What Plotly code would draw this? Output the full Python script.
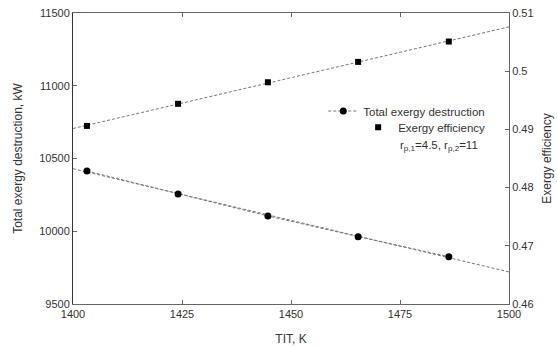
import numpy as np
import plotly.graph_objects as go

tit = [1403.2, 1424.1, 1444.7, 1465.4, 1486.2]
destruction = [10414, 10256, 10105, 9963, 9825]
efficiency = [0.4906, 0.4944, 0.4981, 0.5016, 0.5051]
x_range = [1400, 1500]
x_ticks = [1400, 1425, 1450, 1475, 1500]
y1_ticks = [9500, 10000, 10500, 11000, 11500]
y2_ticks = [0.46, 0.47, 0.48, 0.49, 0.5, 0.51]
y2_labels = ["0.46", "0.47", "0.48", "0.49", "0.5", "0.51"]

fit_x = np.array(x_range, dtype=float)
d_fit = np.polyval(np.polyfit(tit, destruction, 1), fit_x)
e_fit = np.polyval(np.polyfit(tit, efficiency, 1), fit_x)

axis_col = "#666666"
line_col = "#777777"
text_col = "#333333"
font = "Liberation Sans, Arial, sans-serif"
dash = "3px,2px"

fig = go.Figure()
fig.add_trace(go.Scatter(x=fit_x, y=d_fit, mode="lines", showlegend=False,
                         line=dict(color=line_col, width=1, dash=dash), hoverinfo="skip"))
fig.add_trace(go.Scatter(x=fit_x, y=e_fit, mode="lines", showlegend=False, yaxis="y2",
                         line=dict(color=line_col, width=1, dash=dash), hoverinfo="skip"))
fig.add_trace(go.Scatter(x=tit, y=destruction, mode="lines+markers", name="Total exergy destruction",
                         line=dict(color=line_col, width=1, dash=dash),
                         marker=dict(symbol="circle", size=7, color="black"), legend="legend"))
fig.add_trace(go.Scatter(x=tit, y=efficiency, mode="markers", name="Exergy efficiency", yaxis="y2",
                         marker=dict(symbol="square", size=6, color="black"), legend="legend2"))

fig.add_annotation(x=0.933, y=0.543, xref="paper", yref="paper", xanchor="right", yanchor="middle",
                   text="r<sub>p,1</sub>=4.5, r<sub>p,2</sub>=11", showarrow=False,
                   font=dict(size=11.5, color=text_col, family=font))

fig.update_layout(
    width=557, height=347,
    margin=dict(l=73, r=48, t=13, b=43),
    paper_bgcolor="white", plot_bgcolor="white",
    font=dict(family=font, size=11, color=text_col),
    xaxis=dict(range=x_range, tickvals=x_ticks, automargin=False,
               ticks="inside", ticklen=4, tickcolor=axis_col, showline=True, linecolor=axis_col,
               linewidth=1, mirror="ticks", showgrid=False, zeroline=False,
               title=dict(text="TIT, K", font=dict(size=12), standoff=15)),
    yaxis=dict(range=[9500, 11500], tickvals=y1_ticks, tickformat="d", automargin=False,
               ticks="inside", ticklen=4, tickcolor=axis_col, showline=True, linecolor="#333333",
               linewidth=1, showgrid=False, zeroline=False,
               title=dict(text="Total exergy destruction, kW", font=dict(size=12), standoff=14)),
    yaxis2=dict(range=[0.46, 0.51], tickvals=y2_ticks, ticktext=y2_labels, automargin=False,
                overlaying="y", side="right", ticks="inside", ticklen=4, tickcolor=axis_col,
                showline=True, linecolor=axis_col, linewidth=1, showgrid=False, zeroline=False,
                title=dict(text="Exergy efficiency", font=dict(size=12), standoff=9)),
    legend=dict(x=0.574, y=0.713, xanchor="left", yanchor="top", bgcolor="rgba(0,0,0,0)",
                font=dict(size=11.5, color=text_col), itemwidth=30),
    legend2=dict(x=0.654, y=0.657, xanchor="left", yanchor="top", bgcolor="rgba(0,0,0,0)",
                 font=dict(size=11.5, color=text_col), itemwidth=30),
)

fig.write_html("out.html")
